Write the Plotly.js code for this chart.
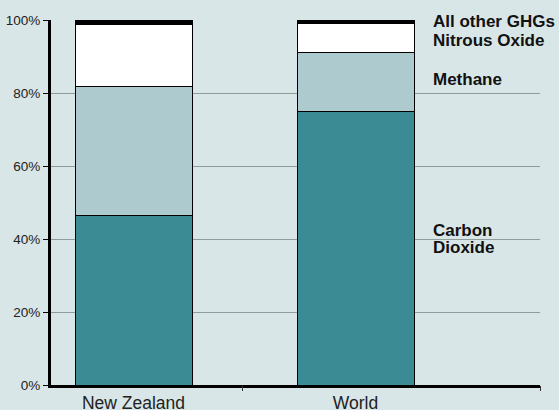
<!DOCTYPE html>
<html>
<head>
<meta charset="utf-8">
<script src="https://cdn.plot.ly/plotly-3.0.1.min.js"></script>
<style>html,body{margin:0;padding:0;background:#d9e6e7;}#chart{width:559px;height:410px;}</style>
</head>
<body>
<div id="chart"></div>
<script>
// Data (percent of total greenhouse gas emissions)
var regions = ['New Zealand', 'World'];
var carbonDioxide = [46.4, 74.9];
var methane = [35.3, 16.1];
var nitrousOxide = [17.2, 8.1];
var otherGHGs = [1.1, 0.9];
var yTickVals = [0, 20, 40, 60, 80, 100];
var yTickText = ['0%', '20%', '40%', '60%', '80%', '100%'];
var seriesLabels = ['All other GHGs', 'Nitrous Oxide', 'Methane', 'Carbon', 'Dioxide'];
var labelLevels = [99.6, 94.4, 83.6, 42.3, 37.6];

var xs = regions.map(function (_, i) { return i; });
var font = 'Liberation Sans, Arial, Helvetica, sans-serif';
var outline = {color: '#000000', width: 1};
var barW = 0.527;

function bar(name, vals, color) {
  return {type: 'bar', name: name, x: xs, y: vals, width: barW,
          marker: {color: color, line: outline}, hoverinfo: 'name+y'};
}

var traces = [
  bar('Carbon Dioxide', carbonDioxide, '#3a8b93'),
  bar('Methane', methane, '#adcbce'),
  bar('Nitrous Oxide', nitrousOxide, '#ffffff'),
  bar('All other GHGs', otherGHGs, '#000000'),
  {type: 'scatter', x: [0.489, 1.831], y: [0, 0], xaxis: 'x2', mode: 'markers',
   marker: {opacity: 0}, hoverinfo: 'skip', showlegend: false}
];

var annotations = seriesLabels.map(function (t, i) {
  return {text: t, xref: 'paper', x: 0.777, xanchor: 'left', yref: 'y', y: labelLevels[i],
          yanchor: 'middle', showarrow: false,
          font: {family: font, size: 17, color: '#111111', weight: 'bold'}};
});

var layout = {
  width: 559, height: 410,
  margin: {l: 51, r: 19, t: 20, b: 25, pad: 0},
  paper_bgcolor: '#d9e6e7', plot_bgcolor: '#d9e6e7',
  barmode: 'stack', bargap: 0, showlegend: false,
  font: {family: font, color: '#222222'},
  xaxis: {range: [-0.3716, 1.831], tickvals: xs, ticktext: regions, ticks: '',
          showgrid: false, zeroline: false, showline: true, linecolor: '#000000', linewidth: 3,
          tickfont: {size: 17.5, color: '#222222'}, fixedrange: true},
  xaxis2: {overlaying: 'x', matches: 'x', side: 'bottom', tickvals: [0.489, 1.831], ticks: 'outside',
           ticklen: 5, tickwidth: 1, tickcolor: '#333333', showticklabels: false, showgrid: false,
           zeroline: false, showline: false},
  yaxis: {range: [0, 100], tickvals: yTickVals, ticktext: yTickText, ticks: 'outside', ticklen: 5,
          tickwidth: 1, tickcolor: '#000000', showgrid: true, gridcolor: '#8e9c9c', gridwidth: 1,
          zeroline: false, showline: true, linecolor: '#000000', linewidth: 3,
          tickfont: {size: 13.5, color: '#222222'}, fixedrange: true},
  annotations: annotations
};

Plotly.newPlot('chart', traces, layout, {displayModeBar: false, staticPlot: true});
</script>
</body>
</html>
